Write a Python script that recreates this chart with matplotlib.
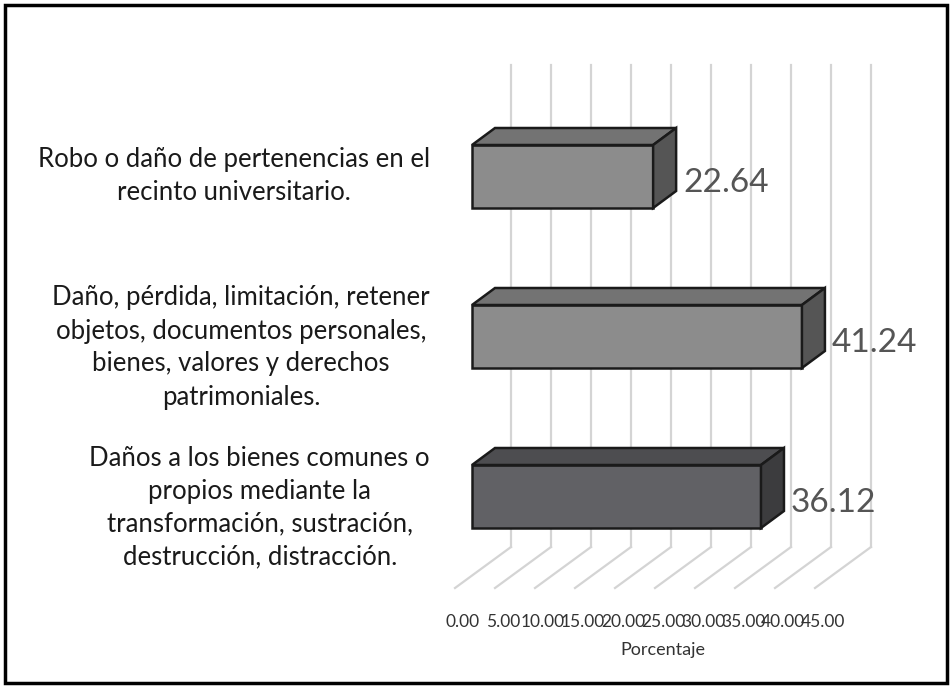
import matplotlib
matplotlib.use("Agg")
import matplotlib.pyplot as plt
from matplotlib.patches import Polygon, Rectangle

categories = ["Robo o daño de pertenencias en el\nrecinto universitario.",
              "Daño, pérdida, limitación, retener\nobjetos, documentos personales,\nbienes, valores y derechos\npatrimoniales.",
              "Daños a los bienes comunes o\npropios mediante la\ntransformación, sustración,\ndestrucción, distracción."]
values = [22.64, 41.24, 36.12]
ticks = [0, 5, 10, 15, 20, 25, 30, 35, 40, 45]
tick_labels = ["%.2f" % t for t in ticks]

W, H = 952, 688
fig = plt.figure(figsize=(W/100, H/100), dpi=100)
ax = fig.add_axes([0, 0, 1, 1])
S = 8.0  # px per unit
x0 = 472
ax.set_xlim(-x0/S, (W-x0)/S)
ax.set_ylim(H, 0)
ax.axis("off")
plt.rcParams['font.family'] = ['Lato', 'DejaVu Sans']

ax.add_patch(Rectangle((-x0/S + 5/S, 5), (W-10)/S, H-10, fill=False, ec='black', lw=2.5))

bx = (511 - x0)/S
fx = (455 - x0)/S
for t in ticks:
    ax.plot([bx+t, bx+t], [65, 547], color='#d4d4d4', lw=1.6, zorder=1)
    ax.plot([bx+t, fx+t], [547, 588], color='#d4d4d4', lw=1.6, zorder=1)

tops = [145, 305, 465]
h = 63
ddx, ddy = 23/S, -17
cols = [('#8c8c8c', '#737373', '#555555'),
        ('#8c8c8c', '#737373', '#555555'),
        ('#616165', '#4d4d50', '#3c3c3e')]
for v, t, c, lab in zip(values, tops, cols, categories):
    front, top, side = c
    ax.add_patch(Polygon([(0, t), (v, t), (v, t+h), (0, t+h)], closed=True, fc=front, ec='#1a1a1a', lw=1.8, zorder=3))
    ax.add_patch(Polygon([(0, t), (ddx, t+ddy), (v+ddx, t+ddy), (v, t)], closed=True, fc=top, ec='#1a1a1a', lw=1.8, zorder=3))
    ax.add_patch(Polygon([(v, t), (v+ddx, t+ddy), (v+ddx, t+h+ddy), (v, t+h)], closed=True, fc=side, ec='#1a1a1a', lw=1.8, zorder=3))
    ax.text(v + ddx + 7/S, t + h/2 + 6, "%.2f" % v, fontsize=24, color='#555555', va='center', ha='left', zorder=4)
    ax.text((430 - x0)/S, t + h/2 + (11 if lab.count("\n") > 1 else 0), lab, fontsize=18.5, ha='right', va='center',
            multialignment='center', linespacing=1.4, color='#1a1a1a')

for t, l in zip(ticks, tick_labels):
    ax.text(fx + t + 1, 622, l, fontsize=12.5, ha='center', va='center', color='#333333')
ax.text((663 - x0)/S, 650, "Porcentaje", fontsize=13, ha='center', va='center', color='#333333')

fig.savefig("out.png", dpi=100)
